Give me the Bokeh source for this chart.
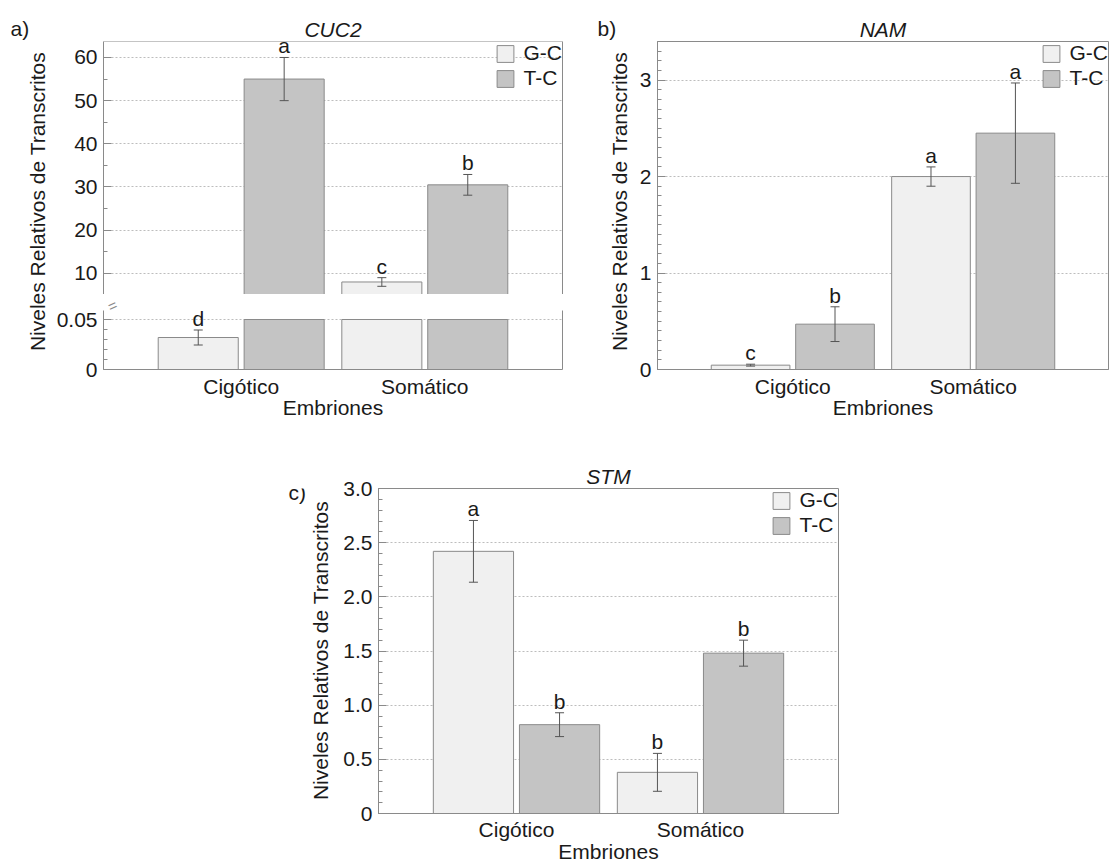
import numpy as np
from bokeh.plotting import figure
from bokeh.models import (Range1d, FactorRange, ColumnDataSource, LinearAxis, FixedTicker,
                          SingleIntervalTicker, Label, Spacer, CDSView, BooleanFilter,
                          NumeralTickFormatter, Span)
from bokeh.transform import dodge
from bokeh.layouts import row, column
from bokeh.core.properties import value
from bokeh.embed import file_html
from bokeh.resources import INLINE

# ---------------- data ----------------
categories = ["Cigótico", "Somático"]
groups = ["G-C", "T-C"]
x_label = "Embriones"
y_label = "Niveles Relativos de Transcritos"

cuc2_gc = [0.032, 8.0]
cuc2_gc_err = [0.0075, 1.0]
cuc2_gc_let = ["d", "c"]
cuc2_tc = [55.0, 30.5]
cuc2_tc_err = [5.0, 2.4]
cuc2_tc_let = ["a", "b"]

nam_gc = [0.045, 2.0]
nam_gc_err = [0.01, 0.10]
nam_gc_let = ["c", "a"]
nam_tc = [0.47, 2.45]
nam_tc_err = [0.18, 0.52]
nam_tc_let = ["b", "a"]

stm_gc = [2.42, 0.38]
stm_gc_err = [0.285, 0.175]
stm_gc_let = ["a", "b"]
stm_tc = [0.82, 1.48]
stm_tc_err = [0.11, 0.12]
stm_tc_let = ["b", "b"]

# ---------------- style ----------------
FONT = "Liberation Sans"
FS = "21px"
TEXT = "#1a1a1a"
GC_FILL = "#f0f0f0"
TC_FILL = "#c4c4c4"
EDGE = "#8a8a8a"
AXIS = "#8a8a8a"
ERR = "#555555"
GRID = "#bdbdbd"
OFFSET = 0.234
BAR_W = 0.436
PAD = 0.25
UPPER_START = 5.1      # axis break (upper part of panel a)
UPPER_END = 63.7
LOWER_TOP = 0.059      # axis break (lower part of panel a)
LOWER_FRAME = 0.075    # lower frame extends into the gap (for the break mark)
LOWER_CAP = 0.05


def make_source(vals, errs, lets):
    vals = np.asarray(vals, dtype=float)
    errs = np.asarray(errs, dtype=float)
    return ColumnDataSource(dict(cat=categories, val=vals, cap=np.minimum(vals, LOWER_CAP),
                                 lo=vals - errs, hi=vals + errs, let=lets))


def style_yaxis(ax, ticker, overrides=None, formatter=None):
    ax.ticker = ticker
    if formatter is not None:
        ax.formatter = formatter
    ax.major_tick_in = 8
    ax.major_tick_out = 0
    ax.minor_tick_in = 4
    ax.minor_tick_out = 0
    ax.major_tick_line_color = AXIS
    ax.minor_tick_line_color = AXIS
    ax.axis_line_color = AXIS
    ax.major_label_text_font = FONT
    ax.major_label_text_font_size = FS
    ax.major_label_text_color = TEXT
    ax.major_label_standoff = 6
    if overrides:
        ax.major_label_overrides = overrides


def style_xaxis(ax, standoff=5, label_standoff=-5):
    ax.major_tick_in = 0
    ax.major_tick_out = 0
    ax.axis_line_color = AXIS
    ax.major_label_text_font = FONT
    ax.major_label_text_font_size = FS
    ax.major_label_text_color = TEXT
    ax.major_label_standoff = standoff
    ax.axis_label = x_label
    ax.axis_label_text_font = FONT
    ax.axis_label_text_font_size = FS
    ax.axis_label_text_font_style = "normal"
    ax.axis_label_text_color = TEXT
    ax.axis_label_standoff = label_standoff


def blank_axis(**kw):
    ax = LinearAxis(ticker=FixedTicker(ticks=[]), **kw)
    ax.major_tick_in = 0
    ax.major_tick_out = 0
    ax.minor_tick_in = 0
    ax.minor_tick_out = 0
    ax.major_label_standoff = 0
    ax.axis_line_color = AXIS
    return ax


def style_title(p, text):
    p.title.text = text
    p.title.text_font = FONT
    p.title.text_font_size = FS
    p.title.text_font_style = "italic"
    p.title.text_color = TEXT
    p.title.align = "center"
    p.title.standoff = 2


def style_grid(p):
    p.xgrid.visible = False
    p.ygrid.grid_line_color = GRID
    p.ygrid.grid_line_dash = "2 2"
    p.ygrid.grid_line_width = 1


def style_legend(p):
    lg = p.legend[0]
    lg.location = "top_right"
    lg.border_line_color = None
    lg.background_fill_alpha = 0
    lg.label_text_font = FONT
    lg.label_text_font_size = FS
    lg.label_text_color = TEXT
    lg.glyph_width = 21
    lg.glyph_height = 21
    lg.label_height = 21
    lg.spacing = 1
    lg.padding = 4
    lg.margin = 0
    lg.label_standoff = 8


def draw_bars(p, sources, legend=True, top="val"):
    for src, off, fill, name in zip(sources, [-OFFSET, OFFSET], [GC_FILL, TC_FILL], groups):
        kw = dict(legend_label=name) if legend else {}
        p.vbar(x=dodge("cat", off, range=p.x_range), top=top, bottom=0, width=BAR_W, source=src,
               fill_color=fill, line_color=EDGE, line_width=1, **kw)


def draw_err(p, sources, masks=None):
    for i, (src, off) in enumerate(zip(sources, [-OFFSET, OFFSET])):
        view = CDSView(filter=BooleanFilter(masks[i])) if masks is not None else CDSView()
        x = dodge("cat", off, range=p.x_range)
        p.segment(x0=x, y0="lo", x1=x, y1="hi", source=src, view=view, line_color=ERR, line_width=1)
        p.scatter(x=x, y="lo", marker="dash", size=9, source=src, view=view, line_color=ERR, line_width=1)
        p.scatter(x=x, y="hi", marker="dash", size=9, source=src, view=view, line_color=ERR, line_width=1)
        p.text(x=x, y="hi", text="let", source=src, view=view, text_font=value(FONT), text_font_size=FS,
               text_color=TEXT, text_align="center", text_baseline="bottom", y_offset=0)


def strip(width, height, top, bottom, label_xy, letter, letter_offset=0, letter_xy=None):
    s = figure(width=width, height=height, title=(letter if letter_xy is None else None),
               toolbar_location=None, output_backend="svg",
               min_border_left=0, min_border_right=0, min_border_top=top, min_border_bottom=bottom,
               outline_line_color=None, x_axis_location=None, y_axis_location=None,
               x_range=Range1d(0, 1), y_range=Range1d(0, 1))
    s.grid.visible = False
    if letter_xy is None:
        s.title.text_font = FONT
        s.title.text_font_size = FS
        s.title.text_font_style = "normal"
        s.title.text_color = TEXT
        s.title.align = "left"
        s.title.offset = letter_offset
        s.title.standoff = 4
    else:
        s.add_layout(Label(x=letter_xy[0], y=letter_xy[1], x_units="screen", y_units="screen", text=letter,
                           text_font=FONT, text_font_size=FS, text_color=TEXT,
                           text_align="left", text_baseline="middle"))
    s.add_layout(Label(x=label_xy[0], y=label_xy[1], x_units="screen", y_units="screen", text=y_label,
                       angle=np.pi / 2, text_font=FONT, text_font_size=FS, text_color=TEXT,
                       text_align="center", text_baseline="middle"))
    return s


# ---------------- panel a (broken axis) ----------------
a_gc = make_source(cuc2_gc, cuc2_gc_err, cuc2_gc_let)
a_tc = make_source(cuc2_tc, cuc2_tc_err, cuc2_tc_let)
xr_a = FactorRange(*categories, range_padding=PAD, range_padding_units="absolute")

up = figure(width=522, height=294, x_range=xr_a, y_range=Range1d(UPPER_START, UPPER_END),
            x_axis_location=None, toolbar_location=None, output_backend="svg",
            min_border_left=53, min_border_right=10, min_border_top=41, min_border_bottom=0,
            outline_line_color=None)
style_title(up, "CUC2")
style_yaxis(up.yaxis[0], SingleIntervalTicker(interval=10, num_minor_ticks=2))
up.add_layout(blank_axis(), "right")
up.add_layout(Span(location=UPPER_END, dimension="width", line_color=AXIS, line_width=1))
style_grid(up)
draw_bars(up, [a_gc, a_tc], legend=True)
draw_err(up, [a_gc, a_tc], masks=[[v - e > UPPER_START for v, e in zip(cuc2_gc, cuc2_gc_err)],
                                  [v - e > UPPER_START for v, e in zip(cuc2_tc, cuc2_tc_err)]])
style_legend(up)

lo = figure(width=522, height=146, x_range=xr_a, y_range=Range1d(0, LOWER_FRAME),
            toolbar_location=None, output_backend="svg",
            min_border_left=53, min_border_right=10, min_border_top=0, min_border_bottom=71,
            outline_line_color=None)
style_yaxis(lo.yaxis[0], SingleIntervalTicker(interval=0.05, num_minor_ticks=5), {0: "0"})
lo.yaxis[0].bounds = (0, LOWER_TOP)
style_xaxis(lo.xaxis[0])
lo.add_layout(blank_axis(bounds=(0, LOWER_TOP)), "right")
style_grid(lo)
draw_bars(lo, [a_gc, a_tc], legend=False, top="cap")
draw_err(lo, [a_gc, a_tc], masks=[[v + e < LOWER_TOP for v, e in zip(cuc2_gc, cuc2_gc_err)],
                                  [v + e < LOWER_TOP for v, e in zip(cuc2_tc, cuc2_tc_err)]])
lo.add_layout(Label(x=9, y=64, x_units="screen", y_units="screen", text="=", angle=0.4,
                    text_align="center", text_baseline="middle", text_font=FONT,
                    text_font_size="15px", text_color=AXIS))

strip_a = strip(50, 440, 41, 71, (37, 168), "a)", letter_offset=10)

# ---------------- panel b ----------------
b_gc = make_source(nam_gc, nam_gc_err, nam_gc_let)
b_tc = make_source(nam_tc, nam_tc_err, nam_tc_let)
pb = figure(width=478, height=440,
            x_range=FactorRange(*categories, range_padding=PAD, range_padding_units="absolute"),
            y_range=Range1d(0, 3.4), toolbar_location=None, output_backend="svg",
            min_border_left=23, min_border_right=4, min_border_top=41, min_border_bottom=71,
            outline_line_color=AXIS)
style_title(pb, "NAM")
style_yaxis(pb.yaxis[0], SingleIntervalTicker(interval=1, num_minor_ticks=10))
style_xaxis(pb.xaxis[0])
style_grid(pb)
draw_bars(pb, [b_gc, b_tc])
draw_err(pb, [b_gc, b_tc])
style_legend(pb)

strip_b = strip(62, 440, 41, 71, (47, 168), "b)", letter_offset=25)

# ---------------- panel c ----------------
c_gc = make_source(stm_gc, stm_gc_err, stm_gc_let)
c_tc = make_source(stm_tc, stm_tc_err, stm_tc_let)
pc = figure(width=508, height=425,
            x_range=FactorRange(*categories, range_padding=PAD, range_padding_units="absolute"),
            y_range=Range1d(0, 3.0), toolbar_location=None, output_backend="svg",
            min_border_left=37, min_border_right=10, min_border_top=48, min_border_bottom=52,
            outline_line_color=AXIS)
style_title(pc, "STM")
style_yaxis(pc.yaxis[0], SingleIntervalTicker(interval=0.5, num_minor_ticks=5), {0: "0"},
            formatter=NumeralTickFormatter(format="0.0"))
style_xaxis(pc.xaxis[0], standoff=4, label_standoff=-4)
style_grid(pc)
draw_bars(pc, [c_gc, c_tc])
draw_err(pc, [c_gc, c_tc])
style_legend(pc)

strip_c = strip(57, 425, 48, 52, (37, 163), "c)", letter_xy=(5, 321))

layout = column(
    row(strip_a, column(up, lo), strip_b, pb),
    row(Spacer(width=283, height=425), strip_c, pc),
)

open("out.html", "w").write(file_html(layout, INLINE))
